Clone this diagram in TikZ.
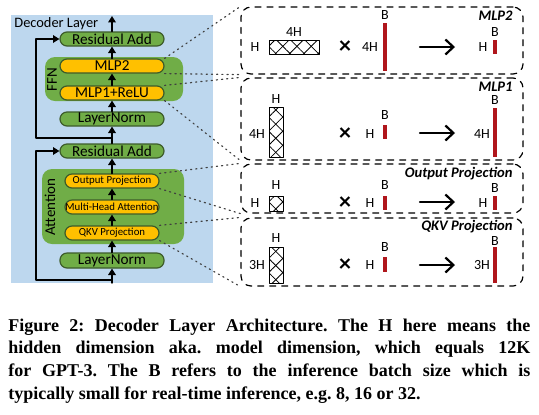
\documentclass[tikz,border=0pt]{standalone}
\usepackage{fontspec}
\setmainfont{Liberation Serif}
\newfontfamily\carlito{Carlito}
\usetikzlibrary{arrows.meta,patterns.meta}
\definecolor{bgblue}{HTML}{BDD7EE}
\definecolor{boxgreen}{HTML}{70AD47}
\definecolor{edgegreen}{HTML}{3D5C2A}
\definecolor{boxyellow}{HTML}{FFC000}
\definecolor{barred}{HTML}{B0161C}
\frenchspacing

\begin{document}
\begin{tikzpicture}[line cap=round,line join=round,x=0.5pt,y=-0.5pt,
  flow/.style={-{Triangle[length=3.2pt,width=3.8pt]},line width=0.7pt},
  layer/.style={draw=edgegreen,line width=0.6pt,fill=boxgreen,rounded corners=3.5pt,
    minimum width=52pt,minimum height=7pt,inner sep=0pt,font=\carlito\fontsize{7.6}{8}\selectfont},
  mlp/.style={layer,fill=boxyellow},
  attn/.style={layer,fill=boxyellow,minimum width=47pt,font=\carlito\fontsize{5.4}{6}\selectfont},
  grp/.style={fill=boxgreen,rounded corners=5pt},
  link/.style={dotted,line width=0.6pt,color=black!75},
  panel/.style={draw,dashed,line width=0.6pt,rounded corners=5pt,minimum width=141pt,inner sep=0pt},
  dim/.style={font=\carlito\fontsize{7}{8}\selectfont,inner sep=0pt},
  title/.style={font=\carlito\bfseries\itshape\fontsize{7.3}{8}\selectfont,inner sep=0pt,anchor=east},
  times/.style={font=\carlito\bfseries\fontsize{12}{12}\selectfont,inner sep=0pt},
  hatch/.style={draw,line width=0.5pt,
    preaction={pattern={Lines[angle=45,distance=5pt,line width=0.4pt]}},
    pattern={Lines[angle=-45,distance=5pt,line width=0.4pt]}},
  res/.style={-{Straight Barb[length=4pt,width=7.5pt]},line width=1.1pt},
  capline/.style={anchor=base west,inner sep=0pt,font=\bfseries\fontsize{9}{11}\selectfont}]
      \useasboundingbox (0,0) rectangle (539,414);
      \fill[bgblue] (11,15) rectangle (213,283);
      \fill[grp] (45,57) rectangle (183,101);
      \fill[grp] (42,169) rectangle (184,244);
      \node[anchor=west,inner sep=0pt,font=\carlito\fontsize{7.2}{8}\selectfont] (dec) at (14,24) {Decoder Layer};
      \node[rotate=90,inner sep=0pt,font=\carlito\fontsize{7.5}{8}\selectfont] (ffn) at (52,80) {FFN};
      \node[rotate=90,inner sep=0pt,font=\carlito\fontsize{7.5}{8}\selectfont] (att) at (50,207) {Attention};
      \node[layer] (res2) at (112,39) {Residual Add};
      \node[mlp] (mlp2) at (112,66) {MLP2};
      \node[mlp] (mlp1) at (112,93) {MLP1+ReLU};
      \node[layer] (ln2) at (112,119) {LayerNorm};
      \node[layer] (res1) at (112,151) {Residual Add};
      \node[attn] (op) at (112,181) {Output Projection};
      \node[attn] (mha) at (112,207) {Multi-Head Attention};
      \node[attn] (qkv) at (112,233) {QKV Projection};
      \node[layer,minimum height=7.5pt] (ln1) at (112,260.5) {LayerNorm};
      \coordinate (in) at (112,283);
      \coordinate (tap1) at (112,280);
      \coordinate (tap2) at (112,138);
      \coordinate (out) at (112,16);
      \draw[flow] (in) -- (ln1);
      \draw[flow] (ln1) -- (qkv);
      \draw[flow] (qkv) -- (mha);
      \draw[flow] (mha) -- (op);
      \draw[flow] (op) -- (res1);
      \draw[flow] (res1) -- (ln2);
      \draw[flow] (ln2) -- (mlp1);
      \draw[flow] (mlp1) -- (mlp2);
      \draw[flow] (mlp2) -- (res2);
      \draw[flow] (res2) -- (out);
      \draw[flow] (tap1) -- ++(-76,0) |- (res1.west);
      \draw[flow] (tap2) -- ++(-76,0) |- (res2.west);
      \node[panel,minimum height=33.5pt] (pmlp2) at (382,40.5) {};
      \node[panel,minimum height=41pt] (pmlp1) at (382,119) {};
      \node[panel,minimum height=24.5pt] (pop) at (382,188.5) {};
      \node[panel,minimum height=34pt] (pqkv) at (382,252) {};
      \draw[link] (mlp2.north east) -- (pmlp2.north west);
      \draw[link] (mlp2.south east) -- (pmlp2.south west);
      \draw[link] (mlp1.north east) -- (pmlp1.north west);
      \draw[link] (mlp1.south east) -- (pmlp1.south west);
      \draw[link] (op.north east) -- (pop.north west);
      \draw[link] (op.south east) -- (pop.south west);
      \draw[link] (qkv.north east) -- (pqkv.north west);
      \draw[link] (qkv.south east) -- (pqkv.south west);
      \node[title] (tmlp2) at (513,16) {MLP2};
      \node[dim] (a2) at (255,47) {H};
      \draw[hatch] (269,40) rectangle (319,54);
      \node[dim] (a2w) at (294,32) {4H};
      \node[times] (x2) at (345,47) {×};
      \node[dim] (b2) at (370,47) {4H};
      \fill[barred] (383,23) rectangle (387,71);
      \node[dim] (b2w) at (385,15) {B};
      \node[dim] (c2) at (483,47) {H};
      \fill[barred] (493,40) rectangle (497,54);
      \node[dim] (c2w) at (495,32) {B};
      \coordinate (r2s) at (420,47);
      \coordinate (r2e) at (455,47);
      \draw[res] (r2s) -- (r2e);
      \node[title] (tmlp1) at (513,87) {MLP1};
      \node[dim] (a1) at (257,134) {4H};
      \draw[hatch] (269,107) rectangle (283,157);
      \node[dim] (a1w) at (276,99) {H};
      \node[times] (x1) at (345,134) {×};
      \node[dim] (b1) at (370,134) {H};
      \fill[barred] (383,125) rectangle (387,139);
      \node[dim] (b1w) at (385,115) {B};
      \node[dim] (c1) at (482,134) {4H};
      \fill[barred] (493,108) rectangle (497,157);
      \node[dim] (c1w) at (495,100.5) {B};
      \coordinate (r1s) at (420,133);
      \coordinate (r1e) at (455,133);
      \draw[res] (r1s) -- (r1e);
      \node[title] (top) at (513,174) {Output Projection};
      \node[dim] (ao) at (255,203) {H};
      \draw[hatch] (269,196) rectangle (283,211);
      \node[dim] (aow) at (276,185) {H};
      \node[times] (xo) at (345,203) {×};
      \node[dim] (bo) at (370,203) {H};
      \fill[barred] (383,196) rectangle (387,210);
      \node[dim] (bow) at (385,185) {B};
      \node[dim] (co) at (483,203) {H};
      \fill[barred] (493,196) rectangle (497,210);
      \node[dim] (cow) at (495,188) {B};
      \coordinate (ros) at (420,202);
      \coordinate (roe) at (455,202);
      \draw[res] (ros) -- (roe);
      \node[title] (tqkv) at (513,227) {QKV Projection};
      \node[dim] (aq) at (257,265) {3H};
      \draw[hatch] (269,247) rectangle (283,283);
      \node[dim] (aqw) at (276,238) {H};
      \node[times] (xq) at (345,265) {×};
      \node[dim] (bq) at (370,265) {H};
      \fill[barred] (383,257) rectangle (387,272);
      \node[dim] (bqw) at (385,247) {B};
      \node[dim] (cq) at (482,265) {3H};
      \fill[barred] (493,247) rectangle (497,283);
      \node[dim] (cqw) at (495,241) {B};
      \coordinate (rqs) at (420,265);
      \coordinate (rqe) at (455,265);
      \draw[res] (rqs) -- (rqe);
      \node[capline] (cap1) at (8,331) {\makebox[261pt][s]{Figure 2: Decoder Layer Architecture. The H here means the}};
      \node[capline] (cap2) at (8,353.7) {\makebox[261pt][s]{hidden dimension aka. model dimension, which equals 12K}};
      \node[capline] (cap3) at (8,376.4) {\makebox[261pt][s]{for GPT-3. The B refers to the inference batch size which is}};
      \node[capline] (cap4) at (8,399) {typically small for real-time inference, e.g. 8, 16 or 32.};
    \end{tikzpicture}
\end{document}
